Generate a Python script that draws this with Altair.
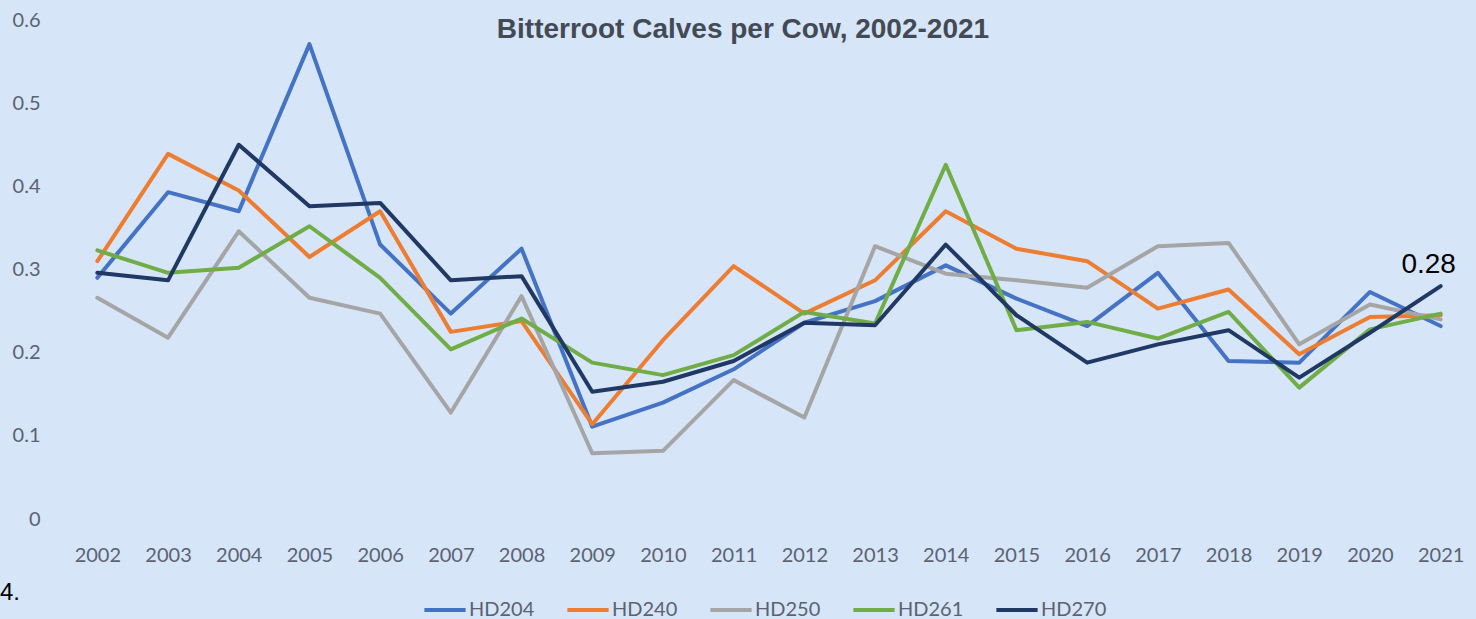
import altair as alt
import pandas as pd

years = [str(y) for y in range(2002, 2022)]
series_names = ["HD204", "HD240", "HD250", "HD261", "HD270"]
series_colors = ["#4472C4", "#ED7D31", "#A5A5A5", "#70AD47", "#1F3864"]

hd204 = [0.29, 0.393, 0.37, 0.571, 0.33, 0.247, 0.325, 0.111, 0.14, 0.18, 0.236, 0.262, 0.305, 0.265, 0.232, 0.296, 0.19, 0.188, 0.273, 0.232]
hd240 = [0.31, 0.439, 0.395, 0.315, 0.37, 0.225, 0.238, 0.114, 0.215, 0.304, 0.247, 0.287, 0.37, 0.325, 0.31, 0.253, 0.276, 0.198, 0.243, 0.245]
hd250 = [0.266, 0.218, 0.346, 0.266, 0.247, 0.128, 0.268, 0.079, 0.082, 0.167, 0.122, 0.328, 0.295, 0.287, 0.278, 0.328, 0.332, 0.21, 0.258, 0.24]
hd261 = [0.323, 0.296, 0.302, 0.352, 0.29, 0.204, 0.241, 0.188, 0.173, 0.197, 0.249, 0.235, 0.426, 0.227, 0.237, 0.217, 0.249, 0.158, 0.228, 0.247]
hd270 = [0.296, 0.287, 0.45, 0.376, 0.38, 0.287, 0.292, 0.153, 0.165, 0.19, 0.236, 0.233, 0.33, 0.245, 0.188, 0.21, 0.227, 0.17, 0.224, 0.28]

y_ticks = [0, 0.1, 0.2, 0.3, 0.4, 0.5, 0.6]
title_text = "Bitterroot Calves per Cow, 2002-2021"
label_series = "HD270"
label_year = "2021"
corner_note = "4."

all_values = [hd204, hd240, hd250, hd261, hd270]
rows = []
for name, vals in zip(series_names, all_values):
    for yr, v in zip(years, vals):
        rows.append({"Year": yr, "Series": name, "Value": v})
df = pd.DataFrame(rows)

x_enc = alt.X("Year:O", scale=alt.Scale(type="point", padding=0.5),
              axis=alt.Axis(title=None, labelAngle=0, labelFont="Lato", labelFontSize=20,
                            labelColor="#5B6272", domain=False, ticks=False, tickSize=0,
                            labelPadding=26, grid=False))
y_enc = alt.Y("Value:Q", scale=alt.Scale(domain=[0, 0.6], nice=False, zero=True),
              axis=alt.Axis(title=None, values=y_ticks, format="~g", labelFont="Lato",
                            labelFontSize=20, labelColor="#5B6272", domain=False,
                            ticks=False, tickSize=0, labelPadding=22, grid=False))

lines = alt.Chart(df).mark_line(strokeWidth=4, strokeJoin="round", strokeCap="round").encode(
    x=x_enc,
    y=y_enc,
    color=alt.Color("Series:N",
                    scale=alt.Scale(domain=series_names, range=series_colors),
                    legend=alt.Legend(title=None, orient="none", direction="horizontal",
                                      columns=5, legendX=360, legendY=567,
                                      symbolType="stroke", symbolSize=1700,
                                      symbolStrokeWidth=4, labelFont="Lato",
                                      labelFontSize=20, labelColor="#5B6272",
                                      labelOffset=1, columnPadding=24)),
    order=alt.Order("Series:N"),
)

label = alt.Chart(df).transform_filter(
    (alt.datum.Series == label_series) & (alt.datum.Year == label_year)
).mark_text(font="Liberation Sans", fontSize=28, color="#000000", align="center",
            baseline="middle", dx=-12, dy=-21).encode(
    x="Year:O",
    y="Value:Q",
    text=alt.Text("Value:Q", format=".2f"),
)

note = alt.Chart(pd.DataFrame({"t": [corner_note]})).mark_text(
    font="Liberation Sans", fontSize=24, color="#000000", align="left", baseline="middle"
).encode(x=alt.value(-62), y=alt.value(573), text="t:N")

chart = alt.layer(lines, label, note).properties(
    width=1414,
    height=499,
    autosize=alt.AutoSizeParams(type="none"),
    padding={"left": 62, "top": 20, "right": 0, "bottom": 100},
    background="#D6E5F8",
    title=alt.TitleParams(title_text, font="Liberation Sans", fontSize=28, fontWeight="bold",
                          color="#444A55", anchor="middle", dx=-26, dy=38),
).configure_view(stroke=None)

chart.save("out.html", embed_options={"renderer": "svg", "actions": False})
